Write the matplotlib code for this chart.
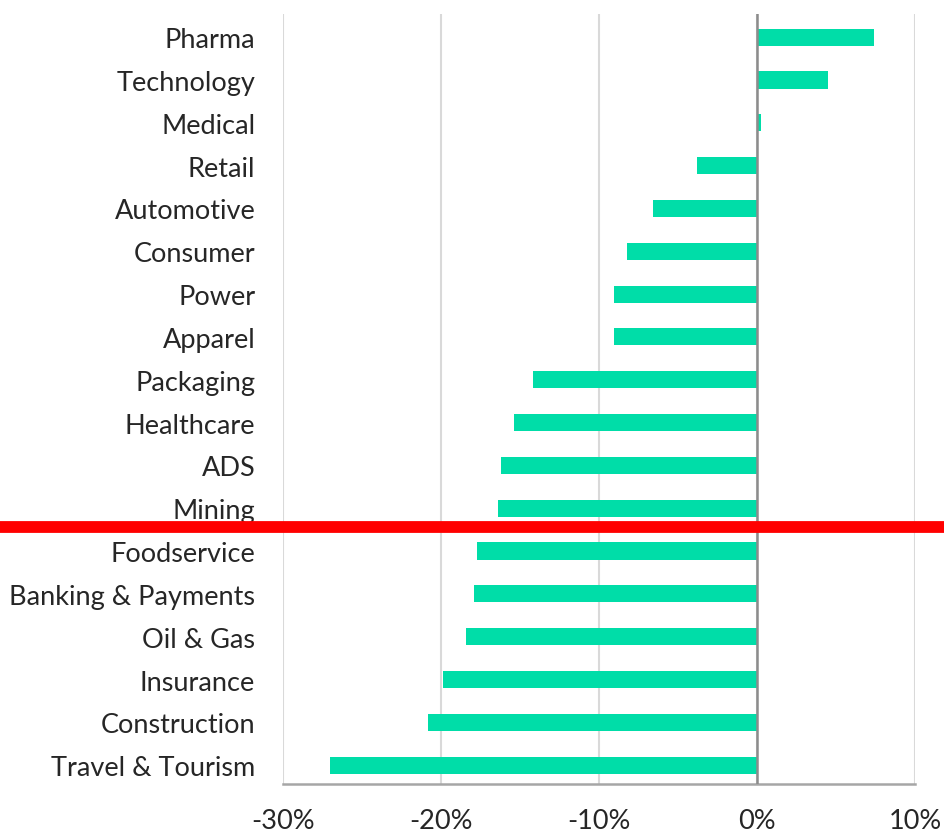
import matplotlib.pyplot as plt
import matplotlib.transforms as mtransforms

# Data
sectors = ['Pharma', 'Technology', 'Medical', 'Retail', 'Automotive', 'Consumer',
           'Power', 'Apparel', 'Packaging', 'Healthcare', 'ADS', 'Mining',
           'Foodservice', 'Banking & Payments', 'Oil & Gas', 'Insurance',
           'Construction', 'Travel & Tourism']
change = [7.4, 4.5, 0.25, -3.8, -6.6, -8.2, -9.05, -9.05, -14.2, -15.4, -16.2, -16.4,
          -17.7, -17.9, -18.4, -19.9, -20.8, -27.0]
xticks = [-30, -20, -10, 0, 10]
xtick_labels = ['-30%', '-20%', '-10%', '0%', '10%']
cut_after = 'Mining'

plt.rcParams['font.family'] = ['Lato', 'DejaVu Sans']

fig = plt.figure(figsize=(9.44, 8.37), dpi=100)
ax = fig.add_axes([0.2998, 0.0621, 0.6695, 0.92])

ypos = list(range(len(sectors)))
ax.barh(ypos, change, height=0.4, color='#00DDA8', zorder=3)

ax.set_xlim(-30, 10)
ax.set_ylim(17.44, -0.54)
ax.set_xticks(xticks)
ax.set_xticklabels(xtick_labels)
ax.set_yticks(ypos)
ax.set_yticklabels(sectors)
ax.tick_params(axis='both', length=0, labelsize=19.5, colors='#262626')
ax.tick_params(axis='y', pad=20)
ax.tick_params(axis='x', pad=17)

# grid and zero line
ax.xaxis.grid(True, color='#D9D9D9', linewidth=1.5, zorder=0)
ax.axvline(0, color='#8C8C8C', linewidth=1.8, zorder=4)

for side in ['top', 'right', 'left']:
    ax.spines[side].set_visible(False)
ax.spines['bottom'].set_color('#A6A6A6')
ax.spines['bottom'].set_linewidth(1.8)

# red cut line across the whole figure
cut_y = sectors.index(cut_after) + 0.43
trans = mtransforms.blended_transform_factory(fig.transFigure, ax.transData)
ax.plot([0, 1], [cut_y, cut_y], color='#FF0000', linewidth=8.5,
        transform=trans, clip_on=False, zorder=5)

plt.savefig('out.png', dpi=100)
